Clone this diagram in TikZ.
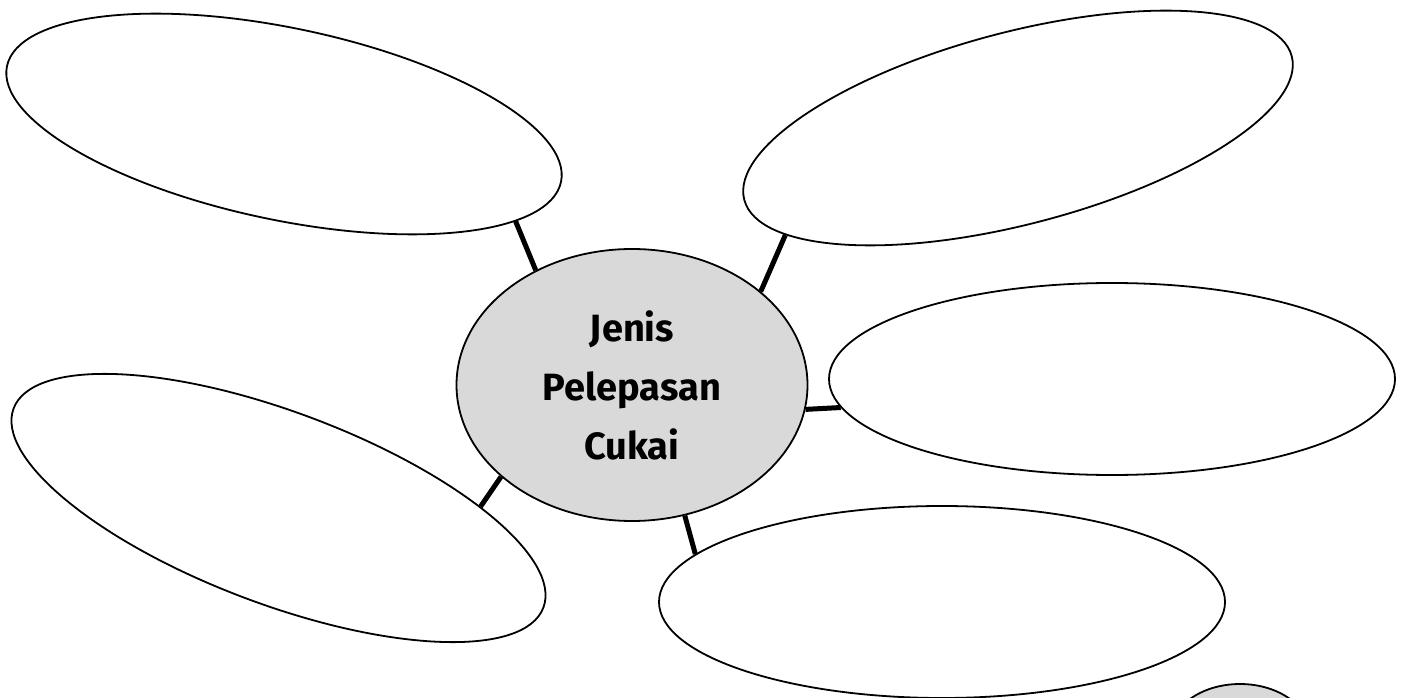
\documentclass[tikz,border=0pt]{standalone}
\usepackage{fontspec}
\setmainfont{Fira Sans}
\usepackage{xcolor}
\usetikzlibrary{shapes.geometric}
\definecolor{hubgray}{HTML}{D9D9D9}
\tikzset{
  bubble/.style={ellipse, draw, line width=1.8pt, fill=white,
                 minimum width=566pt, minimum height=192pt, inner sep=0pt},
  hubnode/.style={ellipse, draw, line width=1.8pt, fill=hubgray,
                  minimum width=351pt, minimum height=272pt, inner sep=0pt,
                  align=center, font=\bfseries\fontsize{38}{59}\selectfont},
  spoke/.style={line width=5pt},
}

\begin{document}
\begin{tikzpicture}[x=1pt, y=1pt]
  \useasboundingbox (0,0) rectangle (1407,697);

  \node[hubnode] (hub) at (632,312) {Jenis\\Pelepasan\\Cukai};

  \node[bubble, rotate=-11.8] (nw)    at (284,573)   {};
  \node[bubble, rotate=14.7]  (ne)    at (1018,569)  {};
  \node[bubble]               (east)  at (1112,318)  {};
  \node[bubble, rotate=-20.6] (sw)    at (278.5,189) {};
  \node[bubble]               (south) at (942,95)    {};

  % grey bubble cut off by the page edge
  \node[hubnode, minimum width=140pt, minimum height=100pt] (corner) at (1240,-37) {};

  \foreach \a/\b in {hub.130/nw.-11, hub.36/ne.190, hub.-8/east.186,
                     hub.215/sw.21, hub.-68/south.169}
    \draw[spoke] (\a) -- (\b);
\end{tikzpicture}
\end{document}
